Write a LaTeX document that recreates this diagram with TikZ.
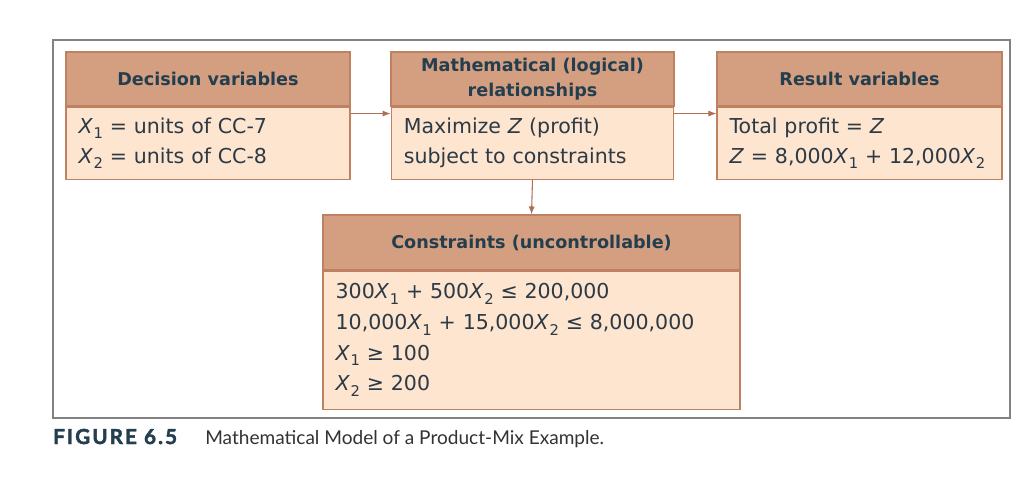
\documentclass[tikz,border=0pt]{standalone}
\usepackage{fontspec}
\usepackage{graphicx}
\setmainfont{DejaVu Sans}
\newfontfamily\capfont{Lato}
\newfontfamily\capbold[LetterSpace=10,FakeBold=2]{Lato}
\usetikzlibrary{arrows.meta,positioning}

\definecolor{headfill}{RGB}{212,158,128}
\definecolor{bodyfill}{RGB}{253,229,208}
\definecolor{boxline}{RGB}{190,130,98}
\definecolor{headtext}{RGB}{35,62,78}
\definecolor{bodytext}{RGB}{44,58,70}
\definecolor{frameline}{RGB}{130,130,130}
\definecolor{linkline}{RGB}{176,110,86}

\newcommand{\xv}[1]{\textit{X}\kern0.4pt\raisebox{-0.5ex}{\scalebox{0.72}{#1}}}
\newcommand{\zv}{\textit{Z}}

\tikzset{
  headbox/.style={draw=boxline, fill=headfill, line width=0.8pt, inner sep=0pt,
    minimum height=40.5pt, align=center, text=headtext,
    font=\bfseries\fontsize{13.2}{18.5}\selectfont},
  bodybox/.style={draw=boxline, fill=bodyfill, line width=0.8pt, anchor=north,
    inner xsep=9.5pt, inner ysep=0pt, align=left, text=bodytext,
    font=\fontsize{15.4}{22.5}\selectfont},
  link/.style={draw=linkline, line width=0.8pt, -{Latex[length=6pt,width=4.5pt]}}
}

\begin{document}
\begin{tikzpicture}[x=0.75pt,y=-0.75pt]
\useasboundingbox[fill=white] (0,0) rectangle (1022,490);
\draw[frameline, line width=1.4pt] (53,40) rectangle (1010,418);

% decision variables
\node[headbox, minimum width=213pt] (dvhead) at (208,79) {Decision variables};
\node[bodybox, text width=194pt, minimum height=54pt] (dvbody) at (dvhead.south)
  {\xv{1} = units of CC-7\\ \xv{2} = units of CC-8};

% mathematical relationships
\node[headbox, minimum width=212.25pt] (mrhead) at (532.5,79)
  {Mathematical (logical)\\ relationships};
\node[bodybox, text width=193pt, minimum height=54pt] (mrbody) at (mrhead.south)
  {Maximize \zv{} (profit)\\ subject to constraints};

% result variables
\node[headbox, minimum width=213.75pt] (rvhead) at (859.5,79) {Result variables};
\node[bodybox, text width=194.75pt, minimum height=54pt] (rvbody) at (rvhead.south)
  {Total profit = \zv\\ \zv{} = 8,000\xv{1} + 12,000\xv{2}};

% constraints
\node[headbox, minimum width=312.75pt, minimum height=41.25pt] (cshead) at (531.5,242.5)
  {Constraints (uncontrollable)};
\node[bodybox, text width=293.75pt, minimum height=103.5pt,
  font=\fontsize{15.4}{23}\selectfont] (csbody) at (cshead.south)
  {300\xv{1} + 500\xv{2} ≤ 200,000\\
   10,000\xv{1} + 15,000\xv{2} ≤ 8,000,000\\
   \xv{1} ≥ 100\\
   \xv{2} ≥ 200};

\draw[link] ([yshift=-5.25pt]dvbody.north east) -- ([yshift=-5.25pt]mrbody.north west);
\draw[link] ([yshift=-5.25pt]mrbody.north east) -- ([yshift=-5.25pt]rvbody.north west);
\draw[link] (mrbody.south) -- (cshead.north);

% caption
\node[anchor=base west, inner sep=0pt, text=headtext, font=\capbold\bfseries\fontsize{15.5}{18}\selectfont]
  (figno) at (53,444) {FIGURE 6.5};
\node[anchor=base west, inner sep=0pt, text=black!80, font=\capfont\fontsize{14.3}{17}\selectfont]
  (figtext) at (205,444) {Mathematical Model of a Product-Mix Example.};
\end{tikzpicture}
\end{document}
